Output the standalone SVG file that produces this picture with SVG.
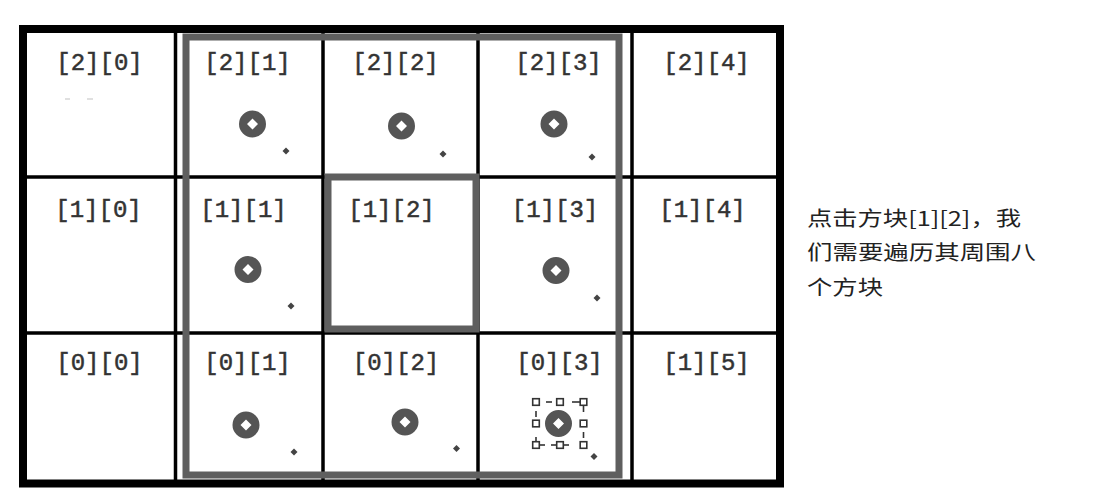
<svg xmlns="http://www.w3.org/2000/svg" width="1100" height="500" viewBox="0 0 1100 500">
<defs>
<style>
.lbl{font-family:"Liberation Mono","DejaVu Sans Mono",monospace;font-size:24px;fill:#333;stroke:#333;stroke-width:0.5;text-anchor:middle}
.grid{stroke:#000;stroke-width:3.5;fill:none}
.border{stroke:#000;stroke-width:8;fill:none}
.sel{stroke:#5f5f5f;stroke-width:7;fill:none}
.h{fill:#fff;stroke:#333;stroke-width:1.6}
.d{stroke:#333;stroke-width:1.6;fill:none}
.faint{stroke:#d6d6d6;stroke-width:1.5}
.note{font-family:"Noto Sans CJK SC","Microsoft YaHei",sans-serif;font-size:20px;fill:#222}
</style>
<path id="ring" d="M0,-13.5 A13.5,13.5 0 1,1 0,13.5 A13.5,13.5 0 1,1 0,-13.5 Z M0,-5.5 L5.5,0 L0,5.5 L-5.5,0 Z" fill="#555" fill-rule="evenodd"/>
<path id="dot" d="M0,-3.5 L3.5,0 L0,3.5 L-3.5,0 Z" fill="#444"/>
</defs>
<rect width="1100" height="500" fill="#fff"/>

<g id="cell-2-0">
<text class="lbl" x="99.5" y="70">[2][0]</text>
<line class="faint" x1="65" y1="99" x2="70" y2="99"/>
<line class="faint" x1="87" y1="99" x2="93" y2="99"/>
</g>
<g id="cell-2-1">
<text class="lbl" x="247.5" y="70">[2][1]</text>
<use href="#ring" x="252.5" y="124"/>
<use href="#dot" x="286" y="151"/>
</g>
<g id="cell-2-2">
<text class="lbl" x="395.5" y="70">[2][2]</text>
<use href="#ring" x="401.5" y="126"/>
<use href="#dot" x="443" y="154"/>
</g>
<g id="cell-2-3">
<text class="lbl" x="558.5" y="70">[2][3]</text>
<use href="#ring" x="554" y="124"/>
<use href="#dot" x="592" y="157"/>
</g>
<g id="cell-2-4">
<text class="lbl" x="706.5" y="70">[2][4]</text>
</g>

<g id="cell-1-0">
<text class="lbl" x="98.5" y="217">[1][0]</text>
</g>
<g id="cell-1-1">
<text class="lbl" x="243.5" y="217">[1][1]</text>
<use href="#ring" x="248" y="269.5"/>
<use href="#dot" x="291" y="306"/>
</g>
<g id="cell-1-2">
<text class="lbl" x="391.5" y="217">[1][2]</text>
</g>
<g id="cell-1-3">
<text class="lbl" x="555" y="217">[1][3]</text>
<use href="#ring" x="556" y="270.5"/>
<use href="#dot" x="597" y="298"/>
</g>
<g id="cell-1-4">
<text class="lbl" x="702.5" y="217">[1][4]</text>
</g>

<g id="cell-0-0">
<text class="lbl" x="99.5" y="370">[0][0]</text>
</g>
<g id="cell-0-1">
<text class="lbl" x="247.5" y="370">[0][1]</text>
<use href="#ring" x="246" y="425"/>
<use href="#dot" x="294" y="452"/>
</g>
<g id="cell-0-2">
<text class="lbl" x="396" y="370">[0][2]</text>
<use href="#ring" x="405" y="422"/>
<use href="#dot" x="456.5" y="448.5"/>
</g>
<g id="cell-0-3">
<text class="lbl" x="559.5" y="370">[0][3]</text>
<use href="#ring" x="558.5" y="423.5"/>
<use href="#dot" x="594" y="456.5"/>
<g id="selection-handles">
<line class="d" x1="546" y1="402" x2="552" y2="402"/>
<line class="d" x1="572" y1="402" x2="581" y2="402"/>
<line class="d" x1="536" y1="411" x2="536" y2="417"/>
<line class="d" x1="536" y1="437" x2="536" y2="442"/>
<line class="d" x1="583.5" y1="405" x2="583.5" y2="412"/>
<line class="d" x1="583.5" y1="432" x2="583.5" y2="438"/>
<line class="d" x1="539" y1="445" x2="545" y2="445"/>
<line class="d" x1="551" y1="445" x2="557" y2="445"/>
<line class="d" x1="563" y1="445" x2="569" y2="445"/>
<rect class="h" x="532.7" y="398.7" width="6.6" height="6.6"/>
<rect class="h" x="556.7" y="398.7" width="6.6" height="6.6"/>
<rect class="h" x="580.2" y="398.7" width="6.6" height="6.6"/>
<rect class="h" x="532.7" y="420.2" width="6.6" height="6.6"/>
<rect class="h" x="580.2" y="420.2" width="6.6" height="6.6"/>
<rect class="h" x="532.7" y="441.7" width="6.6" height="6.6"/>
<rect class="h" x="556.7" y="441.7" width="6.6" height="6.6"/>
<rect class="h" x="580.2" y="441.7" width="6.6" height="6.6"/>
</g>
</g>
<g id="cell-1-5">
<text class="lbl" x="706.5" y="370">[1][5]</text>
</g>

<g id="grid">
<line class="grid" x1="23" y1="177" x2="780" y2="177"/>
<line class="grid" x1="23" y1="333" x2="780" y2="333"/>
<line class="grid" x1="175.5" y1="29" x2="175.5" y2="483"/>
<line class="grid" x1="323" y1="29" x2="323" y2="483"/>
<line class="grid" x1="478" y1="29" x2="478" y2="483"/>
<line class="grid" x1="632" y1="29" x2="632" y2="483"/>
</g>
<g id="neighbour-frame">
<rect class="sel" x="186" y="37" width="433" height="438"/>
</g>
<g id="clicked-frame">
<rect class="sel" x="328" y="177" width="148" height="152"/>
</g>
<g id="outer-border">
<rect class="border" x="23" y="29" width="757" height="454.5"/>
</g>

<g id="note">
<text class="note" x="807" y="226" textLength="214" lengthAdjust="spacingAndGlyphs">点击方块[1][2]，我</text>
<text class="note" x="807" y="260" textLength="229" lengthAdjust="spacingAndGlyphs">们需要遍历其周围八</text>
<text class="note" x="807" y="295" textLength="76" lengthAdjust="spacingAndGlyphs">个方块</text>
</g>
</svg>
